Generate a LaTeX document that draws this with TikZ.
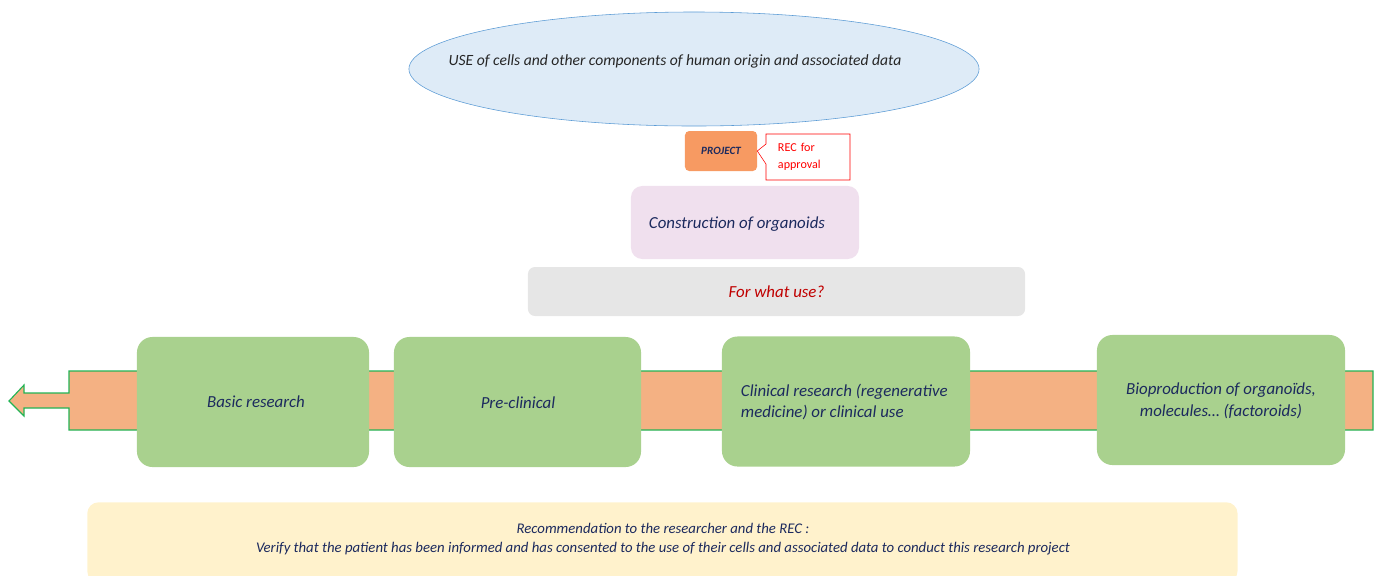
\documentclass[tikz,border=0pt]{standalone}
\usepackage{fontspec}
\setmainfont{Carlito}
\usepackage{tikz}
\usetikzlibrary{arrows.meta,calc,positioning,shapes.geometric,shapes.callouts}
\usepackage{xcolor}

\definecolor{navy}{HTML}{1C2A5E}
\definecolor{ellfill}{HTML}{DEEBF7}
\definecolor{elldraw}{HTML}{5B9BD5}
\definecolor{projfill}{HTML}{F79A62}
\definecolor{recred}{HTML}{FF0000}
\definecolor{pinkfill}{HTML}{F0E0EE}
\definecolor{grayfill}{HTML}{E6E6E6}
\definecolor{usered}{HTML}{C00000}
\definecolor{bandfill}{HTML}{F4B183}
\definecolor{bandline}{HTML}{22B455}
\definecolor{greenfill}{HTML}{A9D18E}
\definecolor{notefill}{HTML}{FFF2CC}

\tikzset{
  usebox/.style={rounded corners=8pt,inner sep=0pt},
  stagebox/.style={rounded corners=11pt,fill=greenfill,inner sep=0pt,minimum height=3.25cm},
  stagetext/.style={font=\fontsize{12}{15.5}\selectfont\itshape,text=navy,align=center},
}

\begin{document}
\begin{tikzpicture}[x=0.025cm,y=-0.025cm]
\useasboundingbox (0,0) rectangle (1377,575);

% top of the chain
\node[ellipse,draw=elldraw,fill=ellfill,minimum width=14.25cm,minimum height=2.85cm,inner sep=0pt]
  (use) at (694,69) {};
\node[font=\fontsize{11.1}{13}\selectfont\itshape,text=black!85] (usetxt) at (675,61)
  {USE of cells and other components of human origin and associated data};

\node[usebox,rounded corners=3pt,fill=projfill,minimum width=1.8cm,minimum height=1cm,
  font=\fontsize{7.9}{9}\selectfont\bfseries\itshape,text=navy] (proj) at (721,151) {PROJECT};
\node[rectangle callout,draw=recred,fill=white,minimum width=2.1cm,minimum height=1.15cm,
  callout absolute pointer={(proj.east)},callout pointer width=0.5cm,
  font=\fontsize{8.6}{12}\selectfont,text=recred,align=left,text width=1.5cm,inner xsep=0.3cm,inner ysep=0pt]
  (rec) at (808,157) {REC for\\approval};

\node[usebox,fill=pinkfill,minimum width=5.7cm,minimum height=1.825cm] (constr) at (745,222.5) {};
\node[font=\fontsize{12}{15}\selectfont\itshape,text=navy,anchor=west] (constrtxt) at (644,224)
  {Construction of organoids};

\node[usebox,rounded corners=5pt,fill=grayfill,minimum width=12.425cm,minimum height=1.225cm,
  font=\fontsize{12}{15}\selectfont\itshape,text=usered] (whatuse) at (776.5,291.5) {For what use?};

% band with arrow to the left
\draw[bandline,fill=bandfill,line width=0.8pt]
  (1373,371) -- (69,371) -- (69,393) -- (24,393) -- (24,385) -- (9,401)
  -- (24,416) -- (24,408) -- (69,408) -- (69,430) -- (1373,430) -- cycle;

\foreach \i/\xc/\yc/\w in {1/253/402/5.8, 2/517.5/402/6.175, 3/846/401.5/6.2, 4/1221/400/6.2}{%
  \node[stagebox,minimum width=\w cm] (g\i) at (\xc,\yc) {};
}
\node[stagetext] (t1) at (256,402) {Basic research};
\node[stagetext] (t2) at (518,403) {Pre-clinical};
\node[stagetext,align=left,anchor=west] (t3) at (736,402)
  {Clinical research (regenerative\\medicine) or clinical use};
\node[stagetext] (t4) at (1221,401) {Bioproduction of organoïds,\\molecules\dots\ (factoroids)};

% recommendation
\node[usebox,fill=notefill,minimum width=28.75cm,minimum height=2cm,anchor=north west] (note) at (87,502) {};
\node[font=\fontsize{10.5}{14}\selectfont\itshape,text=navy,align=center] (notetxt) at (663,539)
  {Recommendation to the researcher and the REC :\\
   Verify that the patient has been informed and has consented to the use of their cells and associated data to conduct this research project};

\end{tikzpicture}
\end{document}
